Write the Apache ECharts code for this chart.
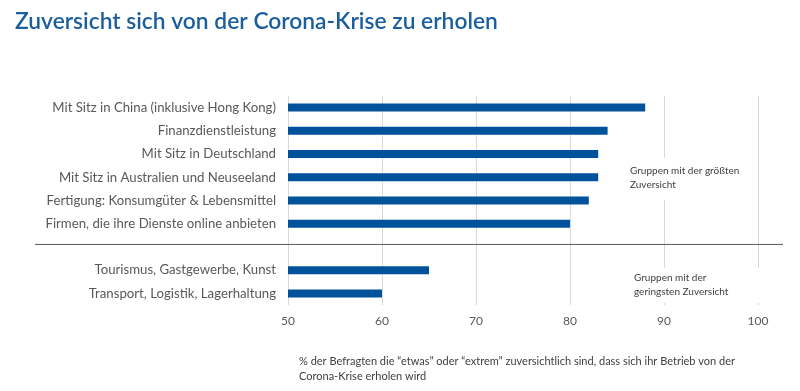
<!DOCTYPE html>
<html>
<head>
<meta charset="utf-8">
<script src="https://cdn.jsdelivr.net/npm/echarts@6/dist/echarts.min.js"></script>
<style>html,body{margin:0;padding:0;background:#fff}#c{width:800px;height:391px}</style>
</head>
<body>
<div id="c"></div>
<script>
const categories = [
  'Mit Sitz in China (inklusive Hong Kong)',
  'Finanzdienstleistung',
  'Mit Sitz in Deutschland',
  'Mit Sitz in Australien und Neuseeland',
  'Fertigung: Konsumgüter & Lebensmittel',
  'Firmen, die ihre Dienste online anbieten',
  '',
  'Tourismus, Gastgewerbe, Kunst',
  'Transport, Logistik, Lagerhaltung'
];
const values = [88, 84, 83, 83, 82, 80, null, 65, 60];
const xTicks = { min: 50, max: 100, interval: 10 };
const titleText = 'Zuversicht sich von der Corona-Krise zu erholen';
const noteTop = 'Gruppen mit der größten\nZuversicht';
const noteBottom = 'Gruppen mit der\ngeringsten Zuversicht';
const footnote = '% der Befragten die \u201Cetwas\u201D oder \u201Cextrem\u201D zuversichtlich sind, dass sich ihr Betrieb von der\nCorona-Krise erholen wird';

const chart = echarts.init(document.getElementById('c'), null, { renderer: 'canvas' });
const font = 'Lato, "Open Sans", sans-serif';
chart.setOption({
  animation: false,
  title: {
    text: titleText,
    left: 10, top: 5,
    textStyle: { fontFamily: font, fontSize: 22.8, fontWeight: 600, color: '#1B5E9E' }
  },
  grid: { left: 288, right: 42, top: 96, bottom: 86, containLabel: false },
  xAxis: {
    type: 'value', min: xTicks.min, max: xTicks.max, interval: xTicks.interval,
    axisLine: { show: false }, axisTick: { show: false },
    axisLabel: { color: '#595959', fontFamily: font, fontSize: 12, margin: 10 },
    splitLine: { show: true, lineStyle: { color: '#D9D9D9', width: 1 } }
  },
  yAxis: {
    type: 'category', data: categories, inverse: true,
    axisLine: { show: false }, axisTick: { show: false },
    axisLabel: { color: '#595959', fontFamily: font, fontSize: 13.2, margin: 12 }
  },
  series: [{
    type: 'bar', data: values, barWidth: 8,
    itemStyle: { color: '#00539A' }
  }]
});

const sepY = chart.convertToPixel({ yAxisIndex: 0 }, '') - 2.5;
chart.setOption({
  graphic: [
    { type: 'line', shape: { x1: 35, y1: sepY, x2: 783, y2: sepY }, style: { stroke: '#595959', lineWidth: 1 }, z: 10 },
    { type: 'text', left: 626, top: 158, z: 10,
      style: { text: noteTop, font: '10px ' + font, fill: '#404040', lineHeight: 14, backgroundColor: '#fff', padding: [6, 4, 8, 4] } },
    { type: 'text', left: 630, top: 268, z: 10,
      style: { text: noteBottom, font: '10px ' + font, fill: '#404040', lineHeight: 14, backgroundColor: '#fff', padding: [3, 40, 4, 4] } },
    { type: 'text', left: 299, top: 354, z: 10,
      style: { text: footnote, font: '11px ' + font, fill: '#404040', lineHeight: 15 } }
  ]
});
</script>
</body>
</html>
